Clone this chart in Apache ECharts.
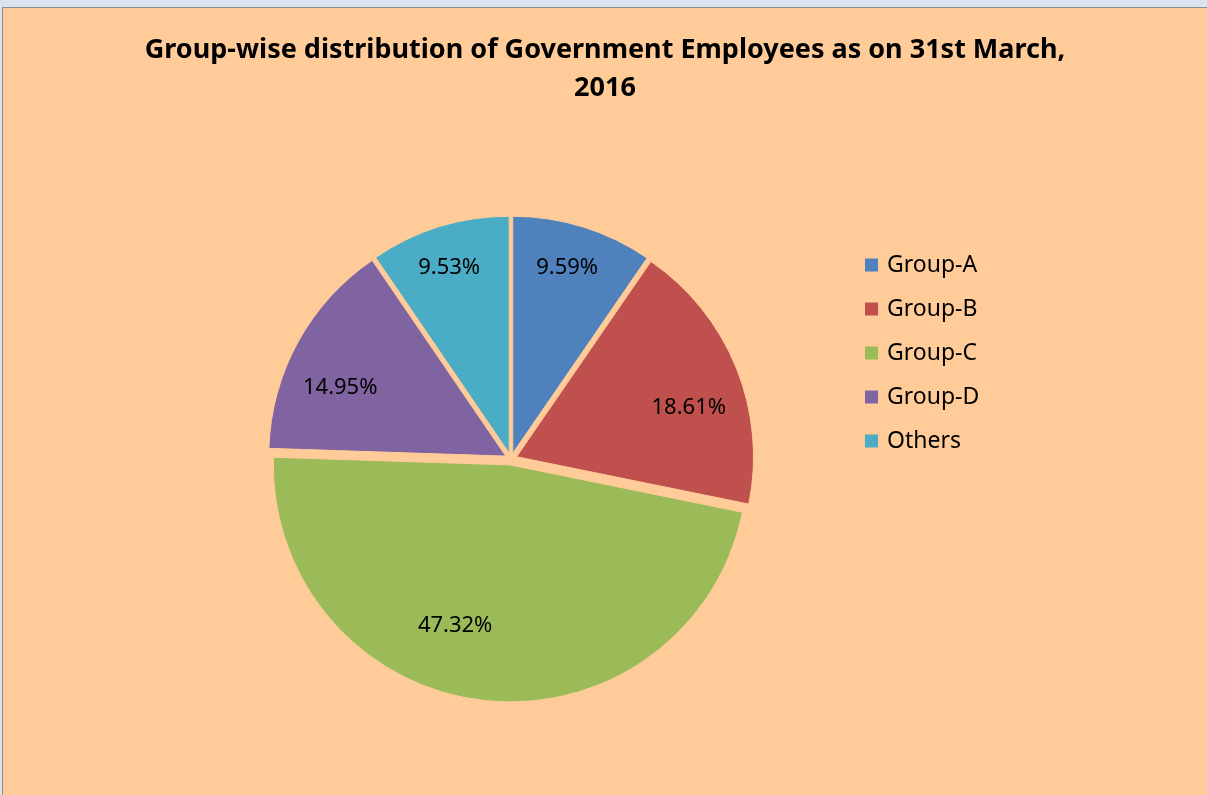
<!DOCTYPE html>
<html>
<head>
<meta charset="utf-8">
<script src="https://cdn.jsdelivr.net/npm/echarts@6/dist/echarts.min.js"></script>
<style>
  html, body { margin: 0; padding: 0; background: #dbe5f1; }
  #main {
    position: absolute; left: 2px; top: 7px; width: 1205px; height: 788px;
    box-sizing: border-box; border-top: 1px solid #8d8d8d; border-left: 1px solid #8d8d8d;
  }
</style>
</head>
<body>
<div id="main"></div>
<script>
// 各组占比 (%)
var groups = ['Group-A', 'Group-B', 'Group-C', 'Group-D', 'Others'];
var shares = [9.59, 18.61, 47.32, 14.95, 9.53];
var colors = ['#4f81bd', '#c0504d', '#9bbb59', '#8064a2', '#4bacc6'];
// label nudges (best-fit look)
var labelNudge = [[-2, -4], [-4, 22], [-33, -28], [1, 23], [-4, -4]];

var chart = echarts.init(document.getElementById('main'));

var pieData = groups.map(function (name, i) {
  return { name: name, value: shares[i], selected: true };
});
var labelData = groups.map(function (name, i) {
  return { name: name, value: shares[i], label: { offset: labelNudge[i] } };
});

var option = {
  backgroundColor: '#ffcb98',
  color: colors,
  animation: false,
  title: {
    text: 'Group-wise distribution of Government Employees as on 31st March,\n2016',
    left: 'center',
    top: 18,
    textStyle: {
      fontFamily: 'Noto Sans',
      fontWeight: 'bold',
      fontSize: 27,
      lineHeight: 38,
      align: 'center',
      color: '#000'
    }
  },
  legend: {
    orient: 'vertical',
    left: 860,
    top: 242,
    padding: 0,
    icon: 'rect',
    itemWidth: 15,
    itemHeight: 15,
    itemGap: 14,
    selectedMode: false,
    data: groups,
    textStyle: {
      fontFamily: 'Noto Sans',
      fontSize: 23,
      lineHeight: 30,
      padding: [0, 0, 0, 3],
      color: '#000'
    }
  },
  series: [{
    name: 'share',
    type: 'pie',
    center: [508, 451],
    radius: [0, 237],
    startAngle: 90,
    selectedMode: 'multiple',
    selectedOffset: 6,
    silent: true,
    label: { show: false },
    labelLine: { show: false },
    itemStyle: { borderColor: '#ffcb98', borderWidth: 1 },
    data: pieData
  }, {
    name: 'labels',
    type: 'pie',
    z: 5,
    center: [508, 451],
    radius: [150, 236],
    startAngle: 90,
    silent: true,
    itemStyle: { opacity: 0 },
    labelLine: { show: false },
    label: {
      show: true,
      position: 'inside',
      formatter: '{c}%',
      fontFamily: 'Noto Sans',
      fontSize: 22,
      opacity: 1,
      color: '#000'
    },
    data: labelData
  }]
};
chart.setOption(option);
</script>
</body>
</html>
